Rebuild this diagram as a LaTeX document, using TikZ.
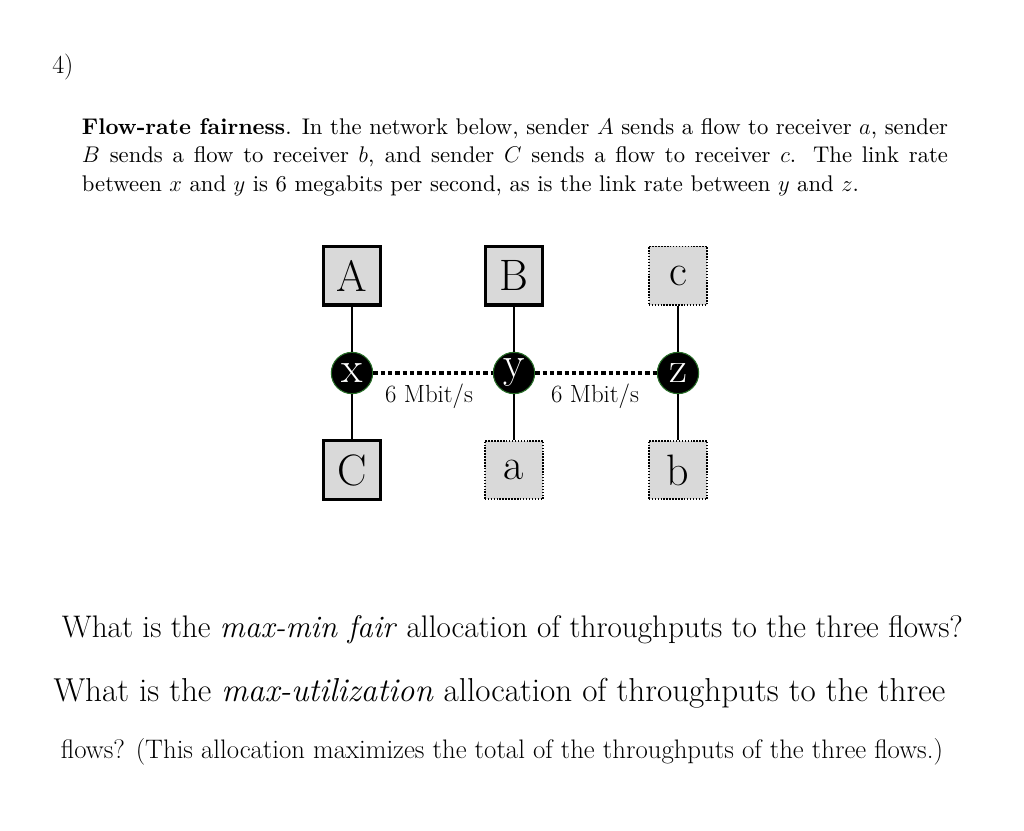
\RequirePackage{fix-cm}
\documentclass[tikz,border=0pt]{standalone}
\definecolor{boxgray}{RGB}{217,217,217}
\definecolor{ringgreen}{RGB}{40,110,40}
% Latin Modern 10pt design at any size (wider glyphs, as in the reference paragraph)
\DeclareFontFamily{TU}{lmten}{}
\DeclareFontShape{TU}{lmten}{m}{n}{<-> \UnicodeFontFile{lmroman10-regular}{\UnicodeFontTeXLigatures}}{}
\DeclareFontShape{TU}{lmten}{bx}{n}{<-> \UnicodeFontFile{lmroman10-bold}{\UnicodeFontTeXLigatures}}{}
\DeclareFontShape{TU}{lmten}{b}{n}{<-> ssub * lmten/bx/n}{}
% set a line at the font size that makes it a given width
\newsavebox{\fitbox}
\newcommand{\fitline}[3]{%
  \sbox{\fitbox}{\fontsize{#2}{#2}\selectfont #3}%
  \pgfmathsetmacro{\fitsize}{#2*#1/\the\wd\fitbox}%
  \fontsize{\fitsize}{\fitsize}\selectfont #3}
\begin{document}
\begin{tikzpicture}[x=0.75pt,y=-0.75pt,
  solidbox/.style={draw=black, line width=2.3pt, fill=boxgray, minimum width=42.7pt, minimum height=44.2pt, inner sep=0pt, font=\fontsize{33}{36}\selectfont},
  dotbox/.style={draw=black, line width=1.2pt, dash pattern=on 1.1pt off 1.1pt, fill=boxgray, minimum width=43.8pt, minimum height=43.8pt, inner sep=0pt, font=\fontsize{33}{36}\selectfont},
  router/.style={circle, fill=black, draw=ringgreen, line width=0.8pt, minimum size=31pt, inner sep=0pt, text=white, font=\fontsize{33}{36}\selectfont},
  link/.style={line width=1.5pt},
  ratelink/.style={line width=2.3pt, dash pattern=on 3.4pt off 2.1pt},
  ratelabel/.style={anchor=base, inner sep=0pt},
  plain/.style={inner sep=0pt}
]
\useasboundingbox[fill=white] (0,0) rectangle (1024,831);

% heading and paragraph
\node[plain, anchor=base west, font=\fontsize{19.5}{23}\selectfont] (num) at (52,73.5) {4)};
\node[plain, anchor=north west, text width=649.5pt, align=justify,
      font=\fontfamily{lmten}\fontsize{17}{21.2}\selectfont] (para) at (81.7,118.3)
  {\textbf{Flow-rate fairness}. In the network below, sender $A$ sends a flow to receiver $a$, sender\linebreak
   $B$ sends a flow to receiver $b$, and sender $C$ sends a flow to receiver $c$.  The link rate\linebreak
   between $x$ and $y$ is 6 megabits per second, as is the link rate between $y$ and $z$.};

% network
\node[solidbox] (A) at (352,275.5) {A};
\node[solidbox] (B) at (514,275.5) {B};
\node[dotbox]   (c) at (678,275.5) {c};
\node[solidbox] (C) at (352,470) {C};
\node[dotbox]   (a) at (514,470) {a};
\node[dotbox]   (b) at (678,470) {b};
\node[router] (x) at (352,373) {x};
\node[router] (y) at (514,373) {y};
\node[router] (z) at (678,373) {z};

\draw[link] (A) -- (x);
\draw[link] (x) -- (C);
\draw[link] (B) -- (y);
\draw[link] (y) -- (a);
\draw[link] (c) -- (z);
\draw[link] (z) -- (b);
\draw[ratelink] (x) -- (y);
\draw[ratelink] (y) -- (z);

\node[ratelabel] (r1) at (429,402.7) {\fitline{66}{15.5}{6 Mbit/s}};
\node[ratelabel] (r2) at (595,402.7) {\fitline{66}{15.5}{6 Mbit/s}};

% questions
\node[plain, anchor=base west] (q1) at (61.7,637.7)
  {\fitline{675.75}{23}{What is the \textit{max-min fair} allocation of throughputs to the three flows?}};
\node[plain, anchor=base west] (q2) at (53.3,701.7)
  {\fitline{668.8}{21.4}{What is the \textit{max-utilization} allocation of throughputs to the three}};
\node[plain, anchor=base west] (q3) at (60.7,758)
  {\fitline{661.5}{17.2}{flows? (This allocation maximizes the total of the throughputs of the three flows.)}};
\end{tikzpicture}
\end{document}
